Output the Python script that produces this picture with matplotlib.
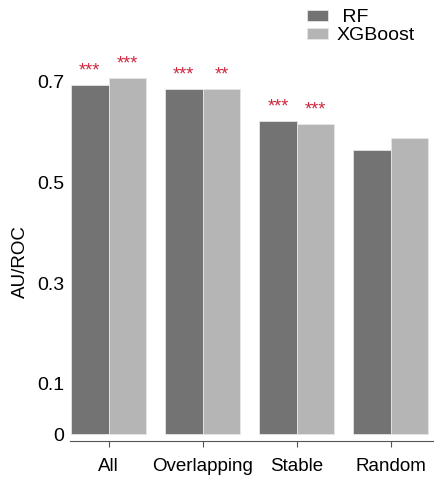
import numpy as np
import matplotlib.pyplot as plt

plt.rcParams['font.family'] = ['Liberation Sans', 'DejaVu Sans']

groups = ['All', 'Overlapping', 'Stable', 'Random']
rf_auc = [0.692, 0.684, 0.621, 0.564]
xgb_auc = [0.707, 0.684, 0.615, 0.587]
rf_sig = ['***', '***', '***', '']
xgb_sig = ['***', '**', '***', '']
yticks = [0, 0.1, 0.3, 0.5, 0.7]

W, H = 434, 478
fig = plt.figure(figsize=(W / 100, H / 100), dpi=100)
ax = fig.add_axes([70 / W, 37 / H, 365 / W, 390 / H])

x = np.arange(len(groups))
w = 0.4
dark = '#737374'
light = '#b5b5b6'
b1 = ax.bar(x - w / 2, rf_auc, w, color=dark, edgecolor='#e6e6e6', linewidth=0.6, label=' RF')
b2 = ax.bar(x + w / 2, xgb_auc, w, color=light, edgecolor='#e6e6e6', linewidth=0.6, label='XGBoost')

# significance stars above the bars
for xs, vals, sig in [(x - w / 2, rf_auc, rf_sig), (x + w / 2, xgb_auc, xgb_sig)]:
    for xi, v, s in zip(xs, vals, sig):
        if s:
            ax.annotate(s, (xi, v), xytext=(0, 4), textcoords='offset points',
                        ha='center', va='bottom', color='#d0283e', fontsize=13,
                        annotation_clip=False)

ax.set_xlim(-0.41, 3.47)
ax.set_ylim(-0.013, 0.76)
ax.set_xticks(x)
ax.set_xticklabels(groups, fontsize=13.5)
ax.set_yticks(yticks)
ax.set_yticklabels([str(t) for t in yticks], fontsize=14)
ax.tick_params(axis='y', length=0, pad=4)
ax.tick_params(axis='x', length=4, width=0.8, color='#555555', pad=8)
for s in ['top', 'right', 'left']:
    ax.spines[s].set_visible(False)
ax.spines['bottom'].set_color('#555555')
ax.spines['bottom'].set_linewidth(0.8)

fig.text(20 / W, 1 - 262 / H, 'AU/ROC', rotation=90, ha='center', va='center', fontsize=13.5)

fig.legend(handles=[b1, b2], loc='upper left', bbox_to_anchor=(289 / W, 1 + 8 / H),
           frameon=False, fontsize=14, handlelength=1.1, handleheight=0.45,
           handletextpad=0.45, labelspacing=0.05)

fig.savefig('out.png', dpi=100)
